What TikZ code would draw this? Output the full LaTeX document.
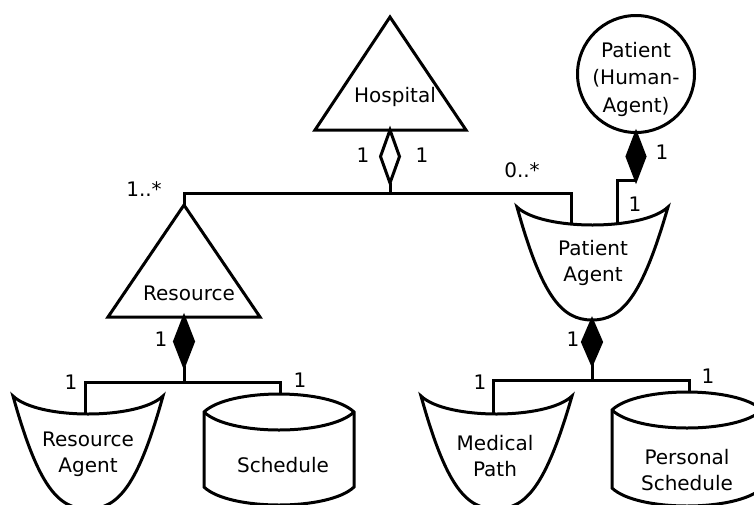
\documentclass[tikz,border=0pt]{standalone}
\usepackage{fontspec}
\setmainfont{DejaVu Sans}
\begin{document}
\begin{tikzpicture}[x=1pt,y=-1pt,
  shp/.style={line width=3pt, fill=white},
  conn/.style={line width=3pt},
  hollowdia/.style={line width=3pt, fill=white},
  soliddia/.style={line width=3pt, fill=black},
  lbl/.style={inner sep=0pt, font=\fontsize{20}{26}\selectfont, align=center},
  mult/.style={inner sep=0pt, font=\fontsize{20}{24}\selectfont}]
\useasboundingbox (0,0) rectangle (754,504);
\clip (0,0) rectangle (754,504);

% ---------- Hospital ----------
\draw[shp] (390,17) -- (466,130) -- (315,130) -- cycle;
\node[lbl] (hosp) at (395,97) {Hospital};
\coordinate (hospB) at (390,130);
\coordinate (hospD) at (390,183);
\coordinate (barTop) at (390,193);
\draw[hollowdia] (hospB) -- (399.5,156.5) -- (hospD) -- (380.5,156.5) -- cycle;
\draw[conn] (hospD) -- (barTop);

% top bar
\coordinate (resTop) at (184,205);
\coordinate (paTop) at (571,224);
\draw[conn] (resTop) -- (184,193) -- (571,193) -- (paTop);

% ---------- Resource ----------
\draw[shp] (resTop) -- (260,317) -- (108,317) -- cycle;
\node[lbl] (res) at (189,293) {Resource};
\coordinate (resB) at (184,317);
\coordinate (resD) at (184,366);
\draw[soliddia] (resB) -- (193.5,341.5) -- (resD) -- (174.5,341.5) -- cycle;
\coordinate (raTop) at (85,413);
\coordinate (schTop) at (280,412);
\draw[conn] (resD) -- (184,382);
\draw[conn] (raTop) -- (85,382) -- (280,382) -- (schTop);

% ---------- Resource Agent (bowl) ----------
\draw[shp] (13,396) .. controls (38,486) and (58,509) .. (88,509)
  .. controls (118,509) and (138,486) .. (163,396)
  .. controls (138,420) and (38,420) .. cycle;
\node[lbl] (ra) at (88,454) {Resource\\Agent};

% ---------- Schedule (cylinder) ----------
\draw[shp] (204,412) .. controls (229,388) and (329,388) .. (354,412)
  -- (354,487) .. controls (329,511) and (229,511) .. (204,487) -- cycle;
\draw[conn] (204,412) .. controls (229,436) and (329,436) .. (354,412);
\node[lbl] (sch) at (283,465) {Schedule};

% ---------- Patient (Human-Agent) ----------
\draw[shp] (636,74) circle[radius=58.5];
\node[lbl, font=\fontsize{20}{27.5}\selectfont] (pat) at (636,79) {Patient\\(Human-\\Agent)};
\coordinate (patB) at (636,133);
\coordinate (patD) at (636,180);
\draw[soliddia] (patB) -- (645,156.5) -- (patD) -- (627,156.5) -- cycle;
\coordinate (paTop2) at (617,224);
\draw[conn] (patD) -- (617,180) -- (paTop2);

% ---------- Patient Agent (bowl) ----------
\draw[shp] (517,207) .. controls (542,297) and (562,320) .. (592,320)
  .. controls (622,320) and (642,297) .. (668,207)
  .. controls (643,231) and (542,231) .. cycle;
\node[lbl] (pa) at (593,263) {Patient\\Agent};
\coordinate (paB) at (592,320);
\coordinate (paD) at (592,364);
\draw[soliddia] (paB) -- (601.5,342) -- (paD) -- (582.5,342) -- cycle;
\coordinate (mpTop) at (493,413);
\coordinate (psTop) at (689,412);
\draw[conn] (paD) -- (592,380);
\draw[conn] (mpTop) -- (493,380) -- (689,380) -- (psTop);

% ---------- Medical Path (bowl) ----------
\draw[shp] (421,396) .. controls (446,486) and (466,509) .. (496,509)
  .. controls (526,509) and (546,486) .. (572,396)
  .. controls (547,420) and (446,420) .. cycle;
\node[lbl] (mp) at (495,456) {Medical\\Path};

% ---------- Personal Schedule (cylinder) ----------
\draw[shp] (612,410) .. controls (637,386) and (737,386) .. (762,410)
  -- (762,488) .. controls (737,512) and (637,512) .. (612,488) -- cycle;
\draw[conn] (612,410) .. controls (637,434) and (737,434) .. (762,410);
\node[lbl] (ps) at (687,470) {Personal\\Schedule};

% ---------- multiplicities ----------
\node[mult] (m1) at (363,155) {1};
\node[mult] (m2) at (422,155) {1};
\node[mult] (m3) at (144,189) {1..*};
\node[mult] (m4) at (522,170) {0..*};
\node[mult] (m5) at (662,152) {1};
\node[mult] (m6) at (635,204) {1};
\node[mult] (m7) at (161,339) {1};
\node[mult] (m8) at (71,382) {1};
\node[mult] (m9) at (300,380) {1};
\node[mult] (m10) at (573,339) {1};
\node[mult] (m11) at (480,382) {1};
\node[mult] (m12) at (708,376) {1};
\end{tikzpicture}
\end{document}
